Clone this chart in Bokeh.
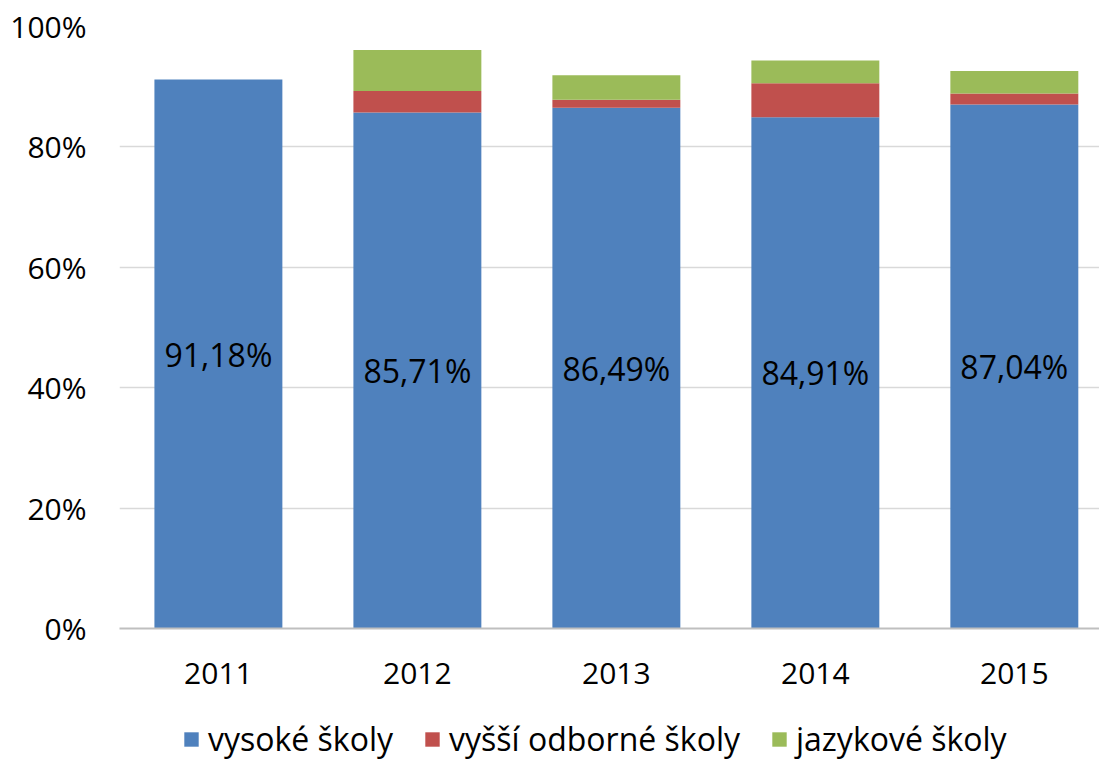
from bokeh.plotting import figure
from bokeh.layouts import column
from bokeh.models import ColumnDataSource, FixedTicker, Legend, LegendItem
from bokeh.core.properties import value
from bokeh.embed import file_html
from bokeh.resources import INLINE

years = ["2011", "2012", "2013", "2014", "2015"]
vysoke = [91.18, 85.71, 86.49, 84.91, 87.04]
vyssi = [0.0, 3.57, 1.35, 5.66, 1.85]
jazykove = [0.0, 6.80, 4.05, 3.77, 3.70]
y_ticks = [0, 20, 40, 60, 80, 100]
y_tick_labels = ["0%", "20%", "40%", "60%", "80%", "100%"]
series_names = ["vysoké školy", "vyšší odborné školy", "jazykové školy"]
colors = ["#4f81bd", "#c0504d", "#9bbb59"]

FONT = "Open Sans"
X_RANGE = (-0.497, 4.428)

xs = list(range(len(years)))
src = ColumnDataSource(dict(
    x=xs,
    vysoke=vysoke,
    vyssi=vyssi,
    jazykove=jazykove,
    label=[f"{v:.2f}".replace(".", ",") + "%" for v in vysoke],
    label_y=[v / 2 for v in vysoke],
))

p = figure(width=1099, height=696, output_backend="svg", toolbar_location=None,
           x_range=X_RANGE, y_range=(0, 100),
           min_border_left=119, min_border_right=0, min_border_top=26, min_border_bottom=68)
p.outline_line_color = None
p.background_fill_color = "white"
p.border_fill_color = "white"

stack = ["vysoke", "vyssi", "jazykove"]
p.vbar_stack(stack, x="x", width=0.643, color=colors, line_color=None, source=src)

p.text(x="x", y="label_y", text="label", source=src,
       text_font=value(FONT), text_font_size="32px", text_color="black",
       text_align="center", text_baseline="middle")

# axes
p.yaxis.ticker = FixedTicker(ticks=y_ticks)
p.yaxis.major_label_overrides = {t: l for t, l in zip(y_ticks, y_tick_labels)}
p.yaxis.axis_line_color = None
p.yaxis.major_tick_line_color = None
p.yaxis.minor_tick_line_color = None
p.yaxis.major_label_standoff = 27
p.yaxis.major_label_text_font = FONT
p.yaxis.major_label_text_font_size = "30px"
p.yaxis.major_label_text_color = "black"

p.xaxis.ticker = FixedTicker(ticks=xs)
p.xaxis.major_label_overrides = {i: y for i, y in zip(xs, years)}
p.xaxis.axis_line_color = "#bfbfbf"
p.xaxis.axis_line_width = 2
p.xaxis.major_tick_line_color = None
p.xaxis.minor_tick_line_color = None
p.xaxis.major_label_standoff = 28
p.xaxis.major_label_text_font = FONT
p.xaxis.major_label_text_font_size = "30px"
p.xaxis.major_label_text_color = "black"

p.xgrid.grid_line_color = None
p.ygrid.ticker = FixedTicker(ticks=y_ticks)
p.ygrid.grid_line_color = "#d9d9d9"
p.ygrid.grid_line_width = 1.5

# legend strip below the chart (its renderers share the data; their range shows none of it)
lf = figure(width=1099, height=66, output_backend="svg", toolbar_location=None,
            x_range=X_RANGE, y_range=(200, 300),
            min_border_left=119, min_border_right=0, min_border_top=0, min_border_bottom=0)
lf.axis.visible = False
lf.grid.grid_line_color = None
lf.outline_line_color = None
lf.border_fill_color = "white"
leg_renderers = lf.vbar_stack(stack, x="x", width=0.643, color=colors, line_color=None, source=src)
legend = Legend(items=[LegendItem(label=n, renderers=[r]) for n, r in zip(series_names, leg_renderers)],
                orientation="horizontal", location=(63, 2),
                label_text_font=FONT, label_text_font_size="32px", label_text_color="black",
                glyph_width=18, glyph_height=18, spacing=30, label_standoff=8,
                border_line_color=None, background_fill_alpha=0, padding=0, margin=0)
lf.add_layout(legend, "center")

layout = column(p, lf, spacing=0)
open("out.html", "w").write(file_html(layout, INLINE))
